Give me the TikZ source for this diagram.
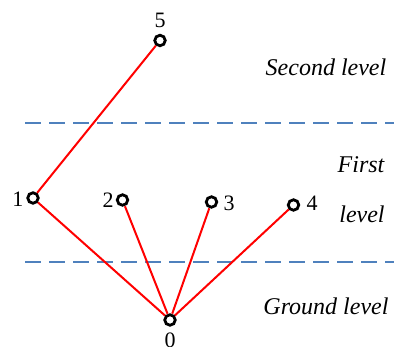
\documentclass[tikz,border=0pt]{standalone}
\usepackage{fontspec}
\setmainfont{Liberation Serif}
\begin{document}
\begin{tikzpicture}[x=1pt,y=-1pt,
  vert/.style={circle,draw=black,line width=2.8pt,fill=white,inner sep=0pt,minimum size=10.5pt},
  edge/.style={red,line width=2pt},
  levelline/.style={draw={rgb,255:red,79;green,129;blue,189},line width=2.4pt,dash pattern=on 16pt off 8pt},
  lvl/.style={font=\fontsize{24}{28}\selectfont\itshape,anchor=center},
  num/.style={font=\fontsize{22}{26}\selectfont}]
\useasboundingbox (0,0) rectangle (394,347);
\coordinate (l1a) at (25,123); \coordinate (l1b) at (394,123);
\coordinate (l2a) at (25,262); \coordinate (l2b) at (394,262);
\draw[levelline] (l1a) -- (l1b);
\draw[levelline] (l2a) -- (l2b);
\node[vert] (n5) at (160,40.5) {};
\node[vert] (n1) at (33,198) {};
\node[vert] (n2) at (122.5,200) {};
\node[vert] (n3) at (211.5,202) {};
\node[vert] (n4) at (293.5,205) {};
\node[vert] (n0) at (170,320) {};
\draw[edge] (n1) -- (n5);
\draw[edge] (n0) -- (n1);
\draw[edge] (n0) -- (n2);
\draw[edge] (n0) -- (n3);
\draw[edge] (n0) -- (n4);
\node[num] (t5) at (160,20) {5};
\node[num] (t1) at (18,199) {1};
\node[num] (t2) at (108,200) {2};
\node[num] (t3) at (229,203) {3};
\node[num] (t4) at (312,203) {4};
\node[num] (t0) at (170,340) {0};
\node[lvl] (s2) at (326,67) {Second level};
\node[lvl] (s1a) at (361,165) {First};
\node[lvl] (s1b) at (362,214) {level};
\node[lvl] (s0) at (326,306) {Ground level};
\end{tikzpicture}
\end{document}
